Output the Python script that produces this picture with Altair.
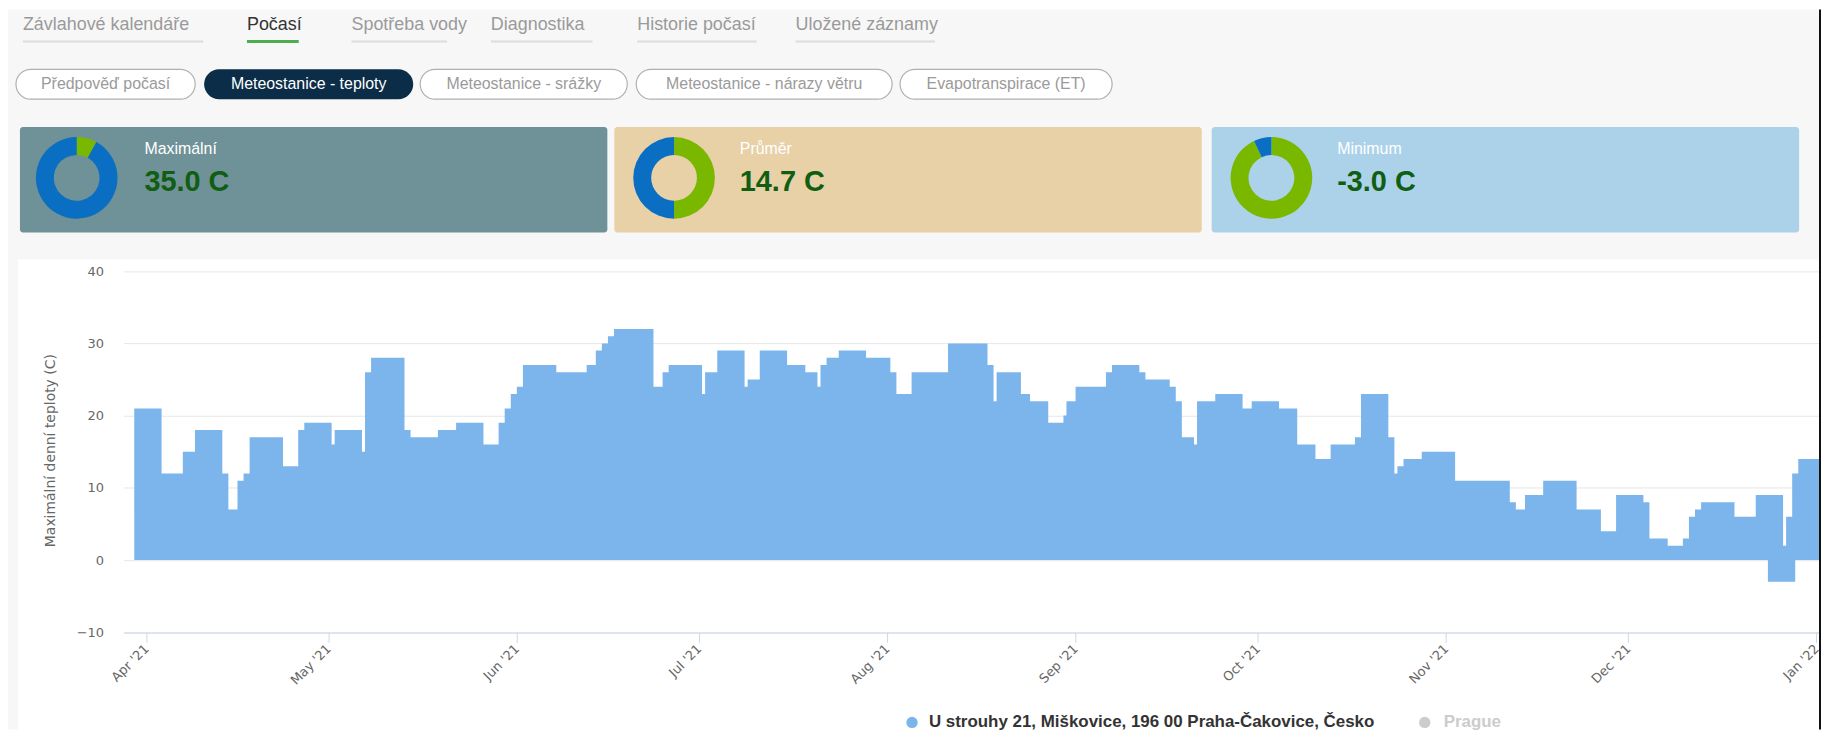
import altair as alt
import pandas as pd

# ---------------- data ----------------
tab_labels = ["Závlahové kalendáře", "Počasí", "Spotřeba vody", "Diagnostika",
              "Historie počasí", "Uložené záznamy"]
active_tab = "Počasí"
pill_labels = ["Předpověď počasí", "Meteostanice - teploty", "Meteostanice - srážky",
               "Meteostanice - nárazy větru", "Evapotranspirace (ET)"]
active_pill = "Meteostanice - teploty"
card_titles = ["Maximální", "Průměr", "Minimum"]
card_values = ["35.0 C", "14.7 C", "-3.0 C"]
donut_green = [8, 50, 93]
donut_blue = [92, 50, 7]

step_dates = [
    "2021-03-30", "2021-04-03T12:00", "2021-04-07", "2021-04-09", "2021-04-13T12:00",
    "2021-04-14T12:00", "2021-04-16", "2021-04-17", "2021-04-18", "2021-04-23T12:00",
    "2021-04-26", "2021-04-27",
    "2021-05-01T12:00", "2021-05-02", "2021-05-06T12:00", "2021-05-07", "2021-05-08",
    "2021-05-13T12:00", "2021-05-14T12:00", "2021-05-19", "2021-05-22", "2021-05-26T12:00",
    "2021-05-29", "2021-05-30", "2021-05-31",
    "2021-06-01", "2021-06-02", "2021-06-07T12:00", "2021-06-12T12:00", "2021-06-14",
    "2021-06-15", "2021-06-16", "2021-06-17", "2021-06-23T12:00", "2021-06-25", "2021-06-26",
    "2021-07-01T12:00", "2021-07-02", "2021-07-04", "2021-07-08T12:00", "2021-07-09",
    "2021-07-11", "2021-07-15T12:00", "2021-07-18T12:00", "2021-07-20T12:00", "2021-07-21",
    "2021-07-22", "2021-07-24", "2021-07-28T12:00",
    "2021-08-01T12:00", "2021-08-02T12:00", "2021-08-05", "2021-08-11", "2021-08-17T12:00",
    "2021-08-18T12:00", "2021-08-19", "2021-08-23", "2021-08-24T12:00", "2021-08-27T12:00",
    "2021-08-30", "2021-08-30T12:00",
    "2021-09-01", "2021-09-06", "2021-09-07", "2021-09-11T12:00", "2021-09-12T12:00",
    "2021-09-16T12:00", "2021-09-17T12:00", "2021-09-18T12:00", "2021-09-20T12:00",
    "2021-09-21", "2021-09-24", "2021-09-28T12:00", "2021-09-30",
    "2021-10-04T12:00", "2021-10-07T12:00", "2021-10-10T12:00", "2021-10-13", "2021-10-17",
    "2021-10-18", "2021-10-22T12:00", "2021-10-23T12:00", "2021-10-24", "2021-10-25",
    "2021-10-28",
    "2021-11-02T12:00", "2021-11-11T12:00", "2021-11-12T12:00", "2021-11-14", "2021-11-17",
    "2021-11-22T12:00", "2021-11-26T12:00", "2021-11-29",
    "2021-12-03T12:00", "2021-12-04T12:00", "2021-12-07T12:00", "2021-12-10", "2021-12-11",
    "2021-12-12", "2021-12-13", "2021-12-18T12:00", "2021-12-22", "2021-12-26T12:00",
    "2021-12-27", "2021-12-28", "2021-12-29",
]
step_values = [
    21, 12, 15, 18, 12, 7, 11, 12, 17, 13, 18, 19,
    16, 18, 15, 26, 28, 18, 17, 18, 19, 16, 19, 21, 23,
    24, 27, 26, 27, 29, 30, 31, 32, 24, 26, 27,
    23, 26, 29, 24, 25, 29, 27, 26, 24, 27, 28, 29, 28,
    26, 23, 26, 30, 27, 22, 26, 23, 22, 19, 20, 22,
    24, 26, 27, 26, 25, 24, 22, 17, 16, 22, 23, 21, 22,
    21, 16, 14, 16, 17, 23, 17, 12, 13, 14, 15,
    11, 8, 7, 9, 11, 7, 4, 9,
    8, 3, 2, 3, 6, 7, 8, 6, 9, 2, 6, 12, 14,
]
neg_dates = ["2021-12-24T00:00", "2021-12-28T12:00"]
neg_values = [-3, -3]
month_ticks = ["2021-04-01", "2021-05-01", "2021-06-01", "2021-07-01", "2021-08-01",
               "2021-09-01", "2021-10-01", "2021-11-01", "2021-12-01", "2022-01-01"]
y_ticks = [-10, 0, 10, 20, 30, 40]
series_names = ["U strouhy 21, Miškovice, 196 00 Praha-Čakovice, Česko", "Prague"]
y_title = "Maximální denní teploty (C)"
x_start, x_end = "2021-03-28T05:30", "2022-01-01T10:00"

# ---------------- style / layout ----------------
W, H = 1821, 723
UI = "Liberation Sans"
CF = "DejaVu Sans"
GREEN, BLUE = "#7ab800", "#0a6fc2"
AREA = "#7cb5ec"


def dt(s):
    t = pd.Timestamp(s)
    return alt.DateTime(year=t.year, month=t.month, date=t.day, hours=t.hour, minutes=t.minute)


def txt(s, x, y, size, color, weight="normal", align="left", font=UI, angle=0):
    return alt.Chart(alt.Data(values=[{"t": s}])).mark_text(
        align=align, baseline="middle", fontSize=size, color=color,
        fontWeight=weight, font=font, angle=angle
    ).encode(x=alt.value(x), y=alt.value(y), text="t:N")


def box(x1, x2, y1, y2, fill, stroke=None, radius=0, sw=1):
    kw = dict(fill=fill, cornerRadius=radius, opacity=1)
    if stroke:
        kw.update(stroke=stroke, strokeWidth=sw)
    else:
        kw.update(strokeWidth=0)
    return alt.Chart(alt.Data(values=[{}])).mark_rect(**kw).encode(
        x=alt.value(x1), x2=alt.value(x2), y=alt.value(y1), y2=alt.value(y2))


def hline(x1, x2, y, color, w):
    return alt.Chart(alt.Data(values=[{}])).mark_rule(color=color, strokeWidth=w).encode(
        x=alt.value(x1), x2=alt.value(x2), y=alt.value(y))


layers = []
# grey page areas (chart panel is white background)
layers.append(box(0, W, 0, 251, "#f7f7f7"))
layers.append(box(0, 10, 251, H, "#f7f7f7"))

# tabs
tab_x = [15, 240, 345, 485, 632, 791]
tab_w = [181, 52, 96, 102, 120, 140]
for lab, x, w in zip(tab_labels, tab_x, tab_w):
    act = lab == active_tab
    layers.append(hline(x, x + w, 32, "#4cae4f" if act else "#dcdcdc", 3 if act else 2))
    layers.append(txt(lab, x, 16, 18, "#333333" if act else "#9a9a9a"))

# pills
pill_x = [(8, 188), (197, 407), (414, 622), (631, 888), (896, 1109)]
for lab, (a, b) in zip(pill_labels, pill_x):
    act = lab == active_pill
    layers.append(box(a, b, 60, 90, "#0b2d47" if act else "#ffffff",
                      stroke=None if act else "#b0b0b0", radius=15, sw=1.2))
    layers.append(txt(lab, (a + b) / 2, 75, 16, "#ffffff" if act else "#9a9a9a",
                      align="center"))

# cards
card_x = [(12, 602), (609, 1199), (1209, 1799)]
card_col = ["#6f9198", "#e8d0a7", "#acd2e9"]
donut_cx = [69, 669, 1269]
text_x = [137, 735, 1335]
for i in range(3):
    a, b = card_x[i]
    layers.append(box(a, b, 118, 224, card_col[i], radius=3))
    d = pd.DataFrame({"part": ["green", "blue"], "v": [donut_green[i], donut_blue[i]],
                      "o": [0, 1]})
    layers.append(alt.Chart(d).mark_arc(radius=41, radius2=23).encode(
        theta=alt.Theta("v:Q", stack=True),
        color=alt.Color("part:N", scale=alt.Scale(domain=["green", "blue"],
                                                  range=[GREEN, BLUE]), legend=None),
        order=alt.Order("o:Q"),
        x=alt.value(donut_cx[i]), y=alt.value(169)))
    layers.append(txt(card_titles[i], text_x[i], 140, 16, "#ffffff"))
    layers.append(txt(card_values[i], text_x[i], 173, 29, "#0f5e12", weight="bold"))

# main chart
area_df = pd.DataFrame({
    "date": pd.to_datetime(step_dates + [x_end], format="ISO8601"),
    "value": step_values + [step_values[-1]],
})
neg_df = pd.DataFrame({"date": pd.to_datetime(neg_dates, format="ISO8601"),
                       "value": neg_values})

xscale = alt.Scale(domain=[dt(x_start), dt(x_end)], range=[116, 1819])
yscale = alt.Scale(domain=[-10, 40], range=[625.5, 262.7], nice=False, zero=False)
xaxis = alt.Axis(values=[dt(m) for m in month_ticks], format="%b '%y", formatType="time",
                 labelAngle=315, labelAlign="right", labelBaseline="middle",
                 labelPadding=4, labelFontSize=13, labelColor="#666666", labelFont=CF,
                 labelFlush=False, labelOverlap=False, labelBound=False,
                 tickSize=10, tickColor="#ccd6eb", domainColor="#ccd6eb", grid=False,
                 title=None, offset=-97.5)
yaxis = alt.Axis(values=y_ticks, title=None, domain=False, ticks=False, tickSize=0,
                 labelPadding=20, labelFontSize=13, labelColor="#666666", labelFont=CF,
                 gridColor="#e6e6e6", gridWidth=1, offset=-116)

for df in (area_df, neg_df):
    layers.append(alt.Chart(df).mark_area(interpolate="step-after", color=AREA,
                                          opacity=1, clip=True).encode(
        x=alt.X("date:T", scale=xscale, axis=xaxis),
        y=alt.Y("value:Q", scale=yscale, axis=yaxis, stack=None),
        y2=alt.datum(0)))

layers.append(txt(y_title, 43, 443, 14, "#666666", align="center", font=CF, angle=270))

# legend
leg_df0 = alt.Data(values=[{}])
layers.append(alt.Chart(alt.Data(values=[{}])).mark_circle(size=130, color=AREA, opacity=1)
              .encode(x=alt.value(908), y=alt.value(716)))
layers.append(txt(series_names[0], 925, 716, 17, "#333333", weight="bold"))
layers.append(alt.Chart(alt.Data(values=[{}])).mark_circle(size=130, color="#cccccc", opacity=1)
              .encode(x=alt.value(1423), y=alt.value(716)))
layers.append(txt(series_names[1], 1442, 716, 17, "#cccccc", weight="bold"))

# right frame line
layers.append(alt.Chart(alt.Data(values=[{}])).mark_rule(color="#111111", strokeWidth=2)
              .encode(x=alt.value(1820), y=alt.value(0), y2=alt.value(H)))

chart = alt.layer(*layers).properties(
    width=W, height=H, background="#ffffff", padding=0,
    autosize=alt.AutoSizeParams(type="none"),
).configure_view(stroke=None)

chart.save("out.html", embed_options={"renderer": "svg", "actions": False})
